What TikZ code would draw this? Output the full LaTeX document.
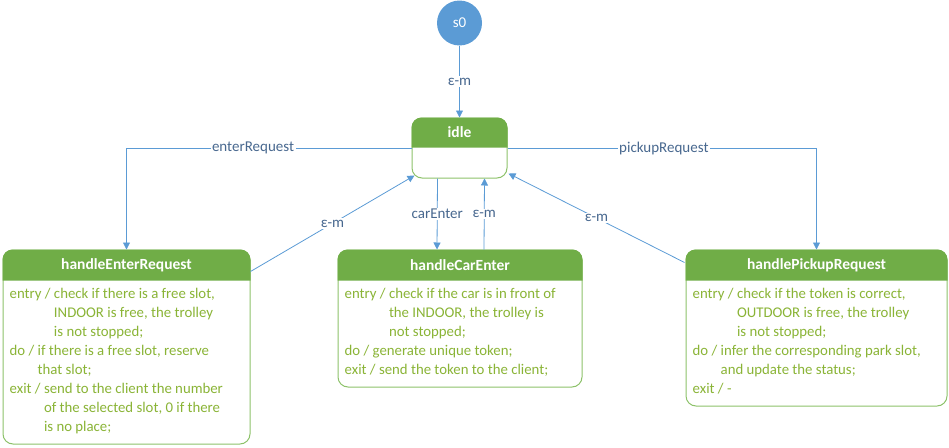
\documentclass[tikz,border=0pt]{standalone}
\usepackage{fontspec}
\setmainfont{Carlito}
\usetikzlibrary{arrows.meta,calc}
\definecolor{hdr}{HTML}{70AD47}
\definecolor{bord}{HTML}{8DC26A}
\definecolor{bodytxt}{HTML}{8AB436}
\definecolor{lbl}{HTML}{48688F}
\definecolor{ln}{HTML}{5B9BD5}
\newcommand{\stheader}[3]{%
  \fill[hdr] ([yshift=-#2]#1.north west) [rounded corners=10pt] -- (#1.north west) -- (#1.north east) [sharp corners] -- ([yshift=-#2]#1.north east) -- cycle;
  \node[ttl] (#1-t) at ([yshift=-#2/2]#1.north) {#3};}
\begin{document}
\begin{tikzpicture}[x=1pt,y=-1pt,
  stbox/.style={draw=bord, line width=1pt, fill=white, rounded corners=10pt, inner sep=0pt},
  ttl/.style={text=white, font=\fontsize{15.5}{18}\selectfont\bfseries, inner sep=0pt},
  body/.style={text=bodytxt, font=\fontsize{14.8}{19}\selectfont, align=left, inner sep=0pt, anchor=north west},
  conn/.style={draw=ln, line width=0.8pt, -{Triangle[width=7pt,length=7pt]}},
  lab/.style={fill=white, text=lbl, font=\fontsize{15}{17}\selectfont, inner sep=1.5pt}]
\useasboundingbox (0,0) rectangle (949,447);
% states
\node[circle, fill=ln, minimum size=45pt, inner sep=0pt, text=white, font=\fontsize{15}{17}\selectfont] (s0) at (459.5,23) {s0};
\node[stbox, minimum width=95pt, minimum height=60pt] (idle) at (459.5,148) {};
\stheader{idle}{30pt}{idle}
\node[stbox, minimum width=247pt, minimum height=194pt] (her) at (126.5,347) {};
\stheader{her}{31pt}{handleEnterRequest}
\node[stbox, minimum width=244pt, minimum height=137pt] (hce) at (460,318.5) {};
\stheader{hce}{31pt}{handleCarEnter}
\node[stbox, minimum width=261pt, minimum height=156pt] (hpr) at (816.5,328) {};
\stheader{hpr}{31pt}{handlePickupRequest}
% bodies
\node[body] (her-b) at ([xshift=7pt,yshift=-39pt]her.north west) {entry / check if there is a free slot,\\\phantom{entry / }INDOOR is free, the trolley\\\phantom{entry / }is not stopped;\\do / if there is a free slot, reserve\\\phantom{do / }that slot;\\exit / send to the client the number\\\phantom{exit / }of the selected slot, 0 if there\\\phantom{exit / }is no place;};
\node[body] (hce-b) at ([xshift=7pt,yshift=-39pt]hce.north west) {entry / check if the car is in front of\\\phantom{entry / }the INDOOR, the trolley is\\\phantom{entry / }not stopped;\\do / generate unique token;\\exit / send the token to the client;};
\node[body] (hpr-b) at ([xshift=7pt,yshift=-39pt]hpr.north west) {entry / check if the token is correct,\\\phantom{entry / }OUTDOOR is free, the trolley\\\phantom{entry / }is not stopped;\\do / infer the corresponding park slot,\\\phantom{do / }and update the status;\\exit / -};
% transitions
\draw[conn] (s0) -- node[lab] {ε-m} (idle);
\draw[conn] (idle.west) -- (her.north |- idle.west) node[lab, pos=0.556] {enterRequest} -- (her.north);
\draw[conn] (idle.east) -- (hpr.north |- idle.east) node[lab, pos=0.506] {pickupRequest} -- (hpr.north);
\draw[conn] ([xshift=-22pt]idle.south) -- node[lab] {carEnter} ([xshift=-23pt]hce.north);
\draw[conn] ([xshift=24pt]hce.north) -- node[lab] {ε-m} ([xshift=25pt]idle.south);
\draw[conn] ([yshift=-22pt]her.north east) -- node[lab] {ε-m} ([xshift=3pt,yshift=3pt]idle.south west);
\draw[conn] ([xshift=-1pt,yshift=-13pt]hpr.north west) -- node[lab, pos=0.5] {ε-m} ([xshift=1pt,yshift=5pt]idle.south east);
\end{tikzpicture}
\end{document}
